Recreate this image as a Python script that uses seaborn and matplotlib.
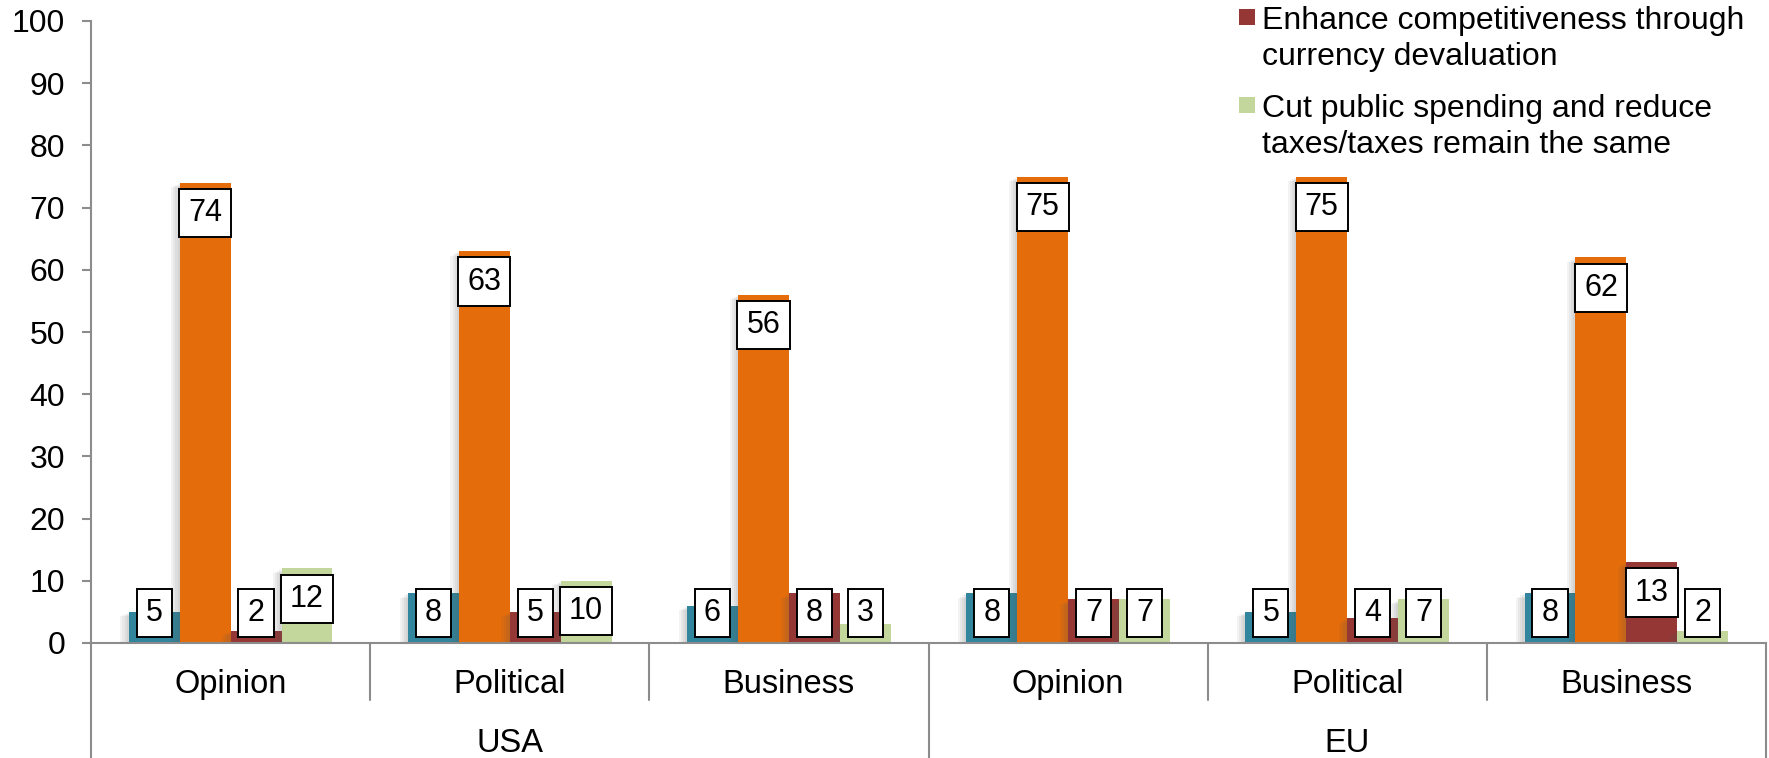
import matplotlib
matplotlib.use("Agg")
import matplotlib.pyplot as plt
import matplotlib.patheffects as pe
from matplotlib.patches import Rectangle
import seaborn as sns
import pandas as pd

# Survey responses (%) by region and respondent group
regions = ["USA", "USA", "USA", "EU", "EU", "EU"]
audiences = ["Opinion", "Political", "Business", "Opinion", "Political", "Business"]
series_names = [
    "Series 1",
    "Series 2",
    "Enhance competitiveness through currency devaluation",
    "Cut public spending and reduce taxes/taxes remain the same",
]
series_1 = [5, 8, 6, 8, 5, 8]
series_2 = [74, 63, 56, 75, 75, 62]
devaluation = [2, 5, 8, 7, 4, 13]
cut_spending = [12, 10, 3, 7, 7, 2]
y_ticks = [0, 10, 20, 30, 40, 50, 60, 70, 80, 90, 100]

colors = ["#31859C", "#E46C0A", "#953735", "#C3D69B"]
all_values = [series_1, series_2, devaluation, cut_spending]

keys = [f"{r} {a}" for r, a in zip(regions, audiences)]
rows = []
for name, vals in zip(series_names, all_values):
    for k, v in zip(keys, vals):
        rows.append({"group": k, "series": name, "value": v})
df = pd.DataFrame(rows)

sns.set_theme(style="white")
plt.rcParams["font.family"] = ["Liberation Sans", "DejaVu Sans"]

W, H = 1769, 758
fig = plt.figure(figsize=(W / 100, H / 100), dpi=100)
left_px, right_px, top_px, bottom_px = 91, 1766, 21, 643
ax = fig.add_axes([left_px / W, 1 - bottom_px / H,
                   (right_px - left_px) / W, (bottom_px - top_px) / H])

sns.barplot(data=df, x="group", y="value", hue="series", order=keys,
            hue_order=series_names, palette=colors, width=0.73,
            saturation=1, legend=False, ax=ax, errorbar=None)

# Soft drop shadow built from a few faint offset layers
shadow = [pe.SimplePatchShadow(offset=(-1.5 * i, -0.8 * i), shadow_rgbFace="0.35",
                               alpha=0.07) for i in (4, 3, 2, 1)] + [pe.Normal()]
for container in ax.containers:
    for bar in container:
        bar.set_linewidth(0)
        bar.set_path_effects(shadow)

ax.set_xlim(-0.5, 5.5)
ax.set_ylim(0, 100)
ax.set_yticks(y_ticks)
ax.set_xlabel("")
ax.set_ylabel("")
ax.set_xticks([])

axis_grey = "#8C8C8C"
for side in ["top", "right"]:
    ax.spines[side].set_visible(False)
for side in ["left", "bottom"]:
    ax.spines[side].set_color(axis_grey)
    ax.spines[side].set_linewidth(1.5)
ax.tick_params(axis="y", which="major", left=True, length=6.5, width=1.5,
               color=axis_grey, labelsize=23, labelcolor="black", pad=12)

# Value labels in framed boxes, near the top of each bar
for container, vals in zip(ax.containers, all_values):
    for bar, v in zip(container, vals):
        cx = bar.get_x() + bar.get_width() / 2
        ax.text(cx, max(v - 4.9, 4.8), f"{v}", ha="center", va="center",
                fontsize=22, color="black", zorder=5,
                bbox=dict(boxstyle="square,pad=0.3", facecolor="white",
                          edgecolor="black", linewidth=1.4))

# Two-level category axis
trans = ax.get_xaxis_transform()
span_px = bottom_px - top_px
short_y = -(700 - bottom_px) / span_px
full_y = -(H - bottom_px) / span_px
for x in [0.5, 1.5, 3.5, 4.5]:
    ax.plot([x, x], [0, short_y], color=axis_grey, lw=1.5, transform=trans, clip_on=False)
for x in [-0.5, 2.5, 5.5]:
    ax.plot([x, x], [0, full_y], color=axis_grey, lw=1.5, transform=trans, clip_on=False)

for i, a in enumerate(audiences):
    ax.text(i, -(693 - bottom_px) / span_px, a, ha="center", va="baseline",
            fontsize=23.5, color="black", transform=trans)
for start, r in [(0, "USA"), (3, "EU")]:
    ax.text(start + 1, -(752 - bottom_px) / span_px, r, ha="center", va="baseline",
            fontsize=23.5, color="black", transform=trans)

# Legend entries for the two smaller series
legend_items = [
    (colors[2], ["Enhance competitiveness through", "currency devaluation"], 29),
    (colors[3], ["Cut public spending and reduce", "taxes/taxes remain the same"], 117),
]
for col, lines, base in legend_items:
    fig.patches.append(Rectangle((1239 / W, 1 - (base - 4) / H), 16 / W, 16 / H,
                                 transform=fig.transFigure, facecolor=col,
                                 edgecolor="none"))
    for j, line in enumerate(lines):
        fig.text(1262 / W, 1 - (base + 36 * j) / H, line, ha="left", va="baseline",
                 fontsize=23, color="black")

fig.savefig("out.png", dpi=100)
